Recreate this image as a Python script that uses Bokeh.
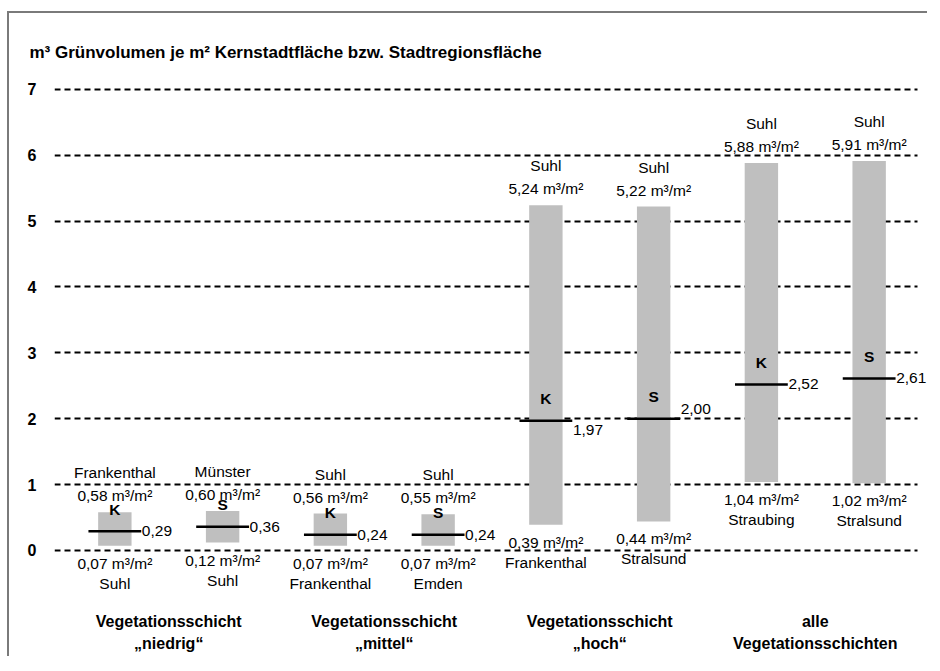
from bokeh.plotting import figure
from bokeh.models import ColumnDataSource, FactorRange, FixedTicker, Range1d
from bokeh.core.properties import value
from bokeh.embed import file_html
from bokeh.resources import INLINE

# ---- data ----
groups = ["niedrig", "mittel", "hoch", "alle"]
group_labels = ["Vegetationsschicht\n\u201eniedrig\u201c",
                "Vegetationsschicht\n\u201emittel\u201c",
                "Vegetationsschicht\n\u201ehoch\u201c",
                "alle\nVegetationsschichten"]
kinds = ["K", "S", "K", "S", "K", "S", "K", "S"]
min_vals = [0.07, 0.12, 0.07, 0.07, 0.39, 0.44, 1.04, 1.02]
max_vals = [0.58, 0.60, 0.56, 0.55, 5.24, 5.22, 5.88, 5.91]
med_vals = [0.29, 0.36, 0.24, 0.24, 1.97, 2.00, 2.52, 2.61]
min_cities = ["Suhl", "Suhl", "Frankenthal", "Emden", "Frankenthal", "Stralsund", "Straubing", "Stralsund"]
max_cities = ["Frankenthal", "M\u00fcnster", "Suhl", "Suhl", "Suhl", "Suhl", "Suhl", "Suhl"]
y_ticks = [0, 1, 2, 3, 4, 5, 6, 7]
med_label_dy = [0, 0, 0, 0, 9, -10, 0, 0]

def de(v):
    return f"{v:.2f}".replace(".", ",")

factors = [(groups[i // 2], kinds[i]) for i in range(len(kinds))]

src = ColumnDataSource(dict(
    x=factors,
    lo=min_vals, hi=max_vals, med=med_vals, kind=kinds,
    lo_txt=[de(v) + " m\u00b3/m\u00b2" for v in min_vals],
    hi_txt=[de(v) + " m\u00b3/m\u00b2" for v in max_vals],
    med_txt=[de(v) for v in med_vals],
    lo_city=min_cities, hi_city=max_cities,
    dy=med_label_dy,
))
gsrc = ColumnDataSource(dict(x=groups, y=[0] * 4, txt=group_labels))

FONT = "Liberation Sans"
FS = "15.5px"

p = figure(
    width=920, height=645,
    x_range=FactorRange(*factors, factor_padding=0, group_padding=0,
                        range_padding=0.06, range_padding_units="absolute"),
    y_range=Range1d(-1.64, 7.3),
    output_backend="svg", toolbar_location=None,
    min_border_left=45, min_border_right=0, min_border_top=56, min_border_bottom=0,
    title="m\u00b3 Gr\u00fcnvolumen je m\u00b2 Kernstadtfl\u00e4che bzw. Stadtregionsfl\u00e4che",
)
p.styles = {"border-top": "2px solid #7a7a7a", "border-left": "2px solid #7a7a7a",
            "margin-top": "11px", "margin-left": "7px"}
p.outline_line_color = None
p.background_fill_color = "white"
p.border_fill_color = "white"

p.title.text_font = FONT
p.title.text_font_size = "17px"
p.title.text_font_style = "bold"
p.title.text_color = "black"
p.title.align = "left"
p.title.offset = -25
p.title.standoff = 16

p.xaxis.visible = False
p.xgrid.grid_line_color = None

p.yaxis.ticker = FixedTicker(ticks=y_ticks)
p.yaxis.axis_line_color = None
p.yaxis.major_tick_line_color = None
p.yaxis.major_tick_out = 0
p.yaxis.major_tick_in = 0
p.yaxis.minor_tick_line_color = None
p.yaxis.major_label_text_font = FONT
p.yaxis.major_label_text_font_style = "bold"
p.yaxis.major_label_text_font_size = "16px"
p.yaxis.major_label_text_color = "black"
p.yaxis.major_label_standoff = 18

g = p.ygrid[0]
g.ticker = FixedTicker(ticks=y_ticks)
g.grid_line_color = "black"
g.grid_line_width = 2
g.grid_line_dash = "6 4"
if "cross_bounds" in g.properties():
    g.cross_bounds = (-0.06, 7.95)

# bars
p.vbar(x="x", bottom="lo", top="hi", width=0.31, source=src,
       fill_color="#bfbfbf", line_color=None)
# median lines
p.rect(x="x", y="med", width=0.49, height=2.5, height_units="screen", source=src,
       fill_color="black", line_color=None)

common = dict(text_font=value(FONT), text_font_size=FS, text_color="black", source=src)
# median value labels
p.text(x="x", y="med", text="med_txt", x_offset=27, y_offset="dy",
       text_align="left", text_baseline="middle", **common)
# K / S labels
p.text(x="x", y="med", text="kind", y_offset=-22, text_align="center", text_baseline="middle",
       text_font_style="bold", **common)
# top labels
p.text(x="x", y="hi", text="hi_txt", y_offset=-8, text_align="center", text_baseline="bottom", **common)
p.text(x="x", y="hi", text="hi_city", y_offset=-31, text_align="center", text_baseline="bottom", **common)
# bottom labels
p.text(x="x", y="lo", text="lo_txt", y_offset=9, text_align="center", text_baseline="top", **common)
p.text(x="x", y="lo", text="lo_city", y_offset=29, text_align="center", text_baseline="top", **common)
# group labels
p.text(x="x", y="y", text="txt", y_offset=63, source=gsrc, text_align="center", text_baseline="top",
       text_font=value(FONT), text_font_size="16px", text_font_style="bold", text_color="black",
       text_line_height=1.25)

open("out.html", "w").write(file_html(p, INLINE))
